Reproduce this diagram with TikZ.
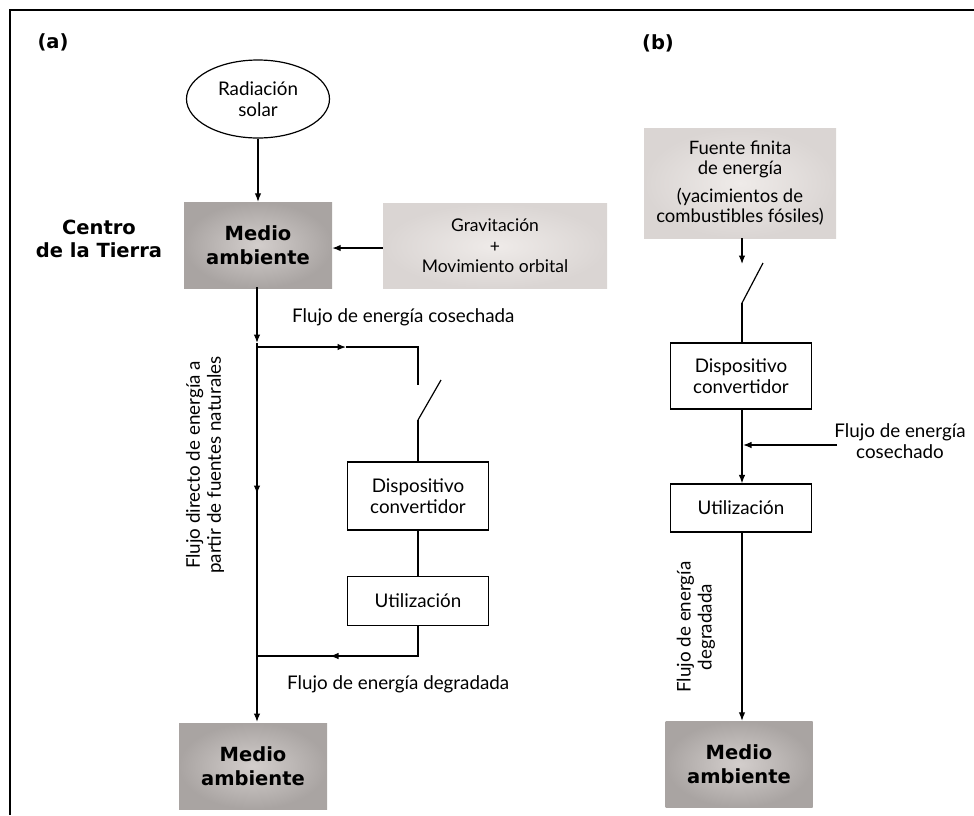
\documentclass[tikz,border=0pt]{standalone}
\usepackage{fontspec}
\setmainfont{Lato}
\newfontfamily\boldface{DejaVu Sans}
\usetikzlibrary{arrows.meta,shapes.geometric}
\definecolor{mgin}{HTML}{D3CECC}
\definecolor{mgout}{HTML}{A9A4A2}
\definecolor{lgin}{HTML}{EFEBE9}
\definecolor{lgout}{HTML}{DAD5D3}
\begin{document}
\begin{tikzpicture}[x=1pt,y=-1pt,
  txt/.style={font=\fontsize{18.8}{21}\selectfont, align=center, inner sep=0pt},
  smtxt/.style={font=\fontsize{17.5}{20.5}\selectfont, align=center, inner sep=0pt},
  bigtxt/.style={font=\boldface\bfseries\fontsize{19.5}{23.5}\selectfont, align=center, inner sep=0pt},
  plainbox/.style={draw, line width=1.2pt, txt, minimum width=141pt},
  darkbox/.style={rectangle, inner color=mgin, outer color=mgout, bigtxt, minimum width=148pt, minimum height=86pt},
  lightbox/.style={rectangle, inner color=lgin, outer color=lgout, smtxt},
  conn/.style={line width=1.2pt},
  arr/.style={conn, -{Latex[length=8.5pt,width=6.5pt]}},
]
\useasboundingbox (0,0) rectangle (974,815);
\draw[line width=2.6pt] (974,10) -- (10,10) -- (10,815);

% ---------- (a)
\node[bigtxt] (lbla) at (53,42) {(a)};
\node[draw, ellipse, line width=1.2pt, txt, minimum width=143pt, minimum height=78pt] (sol) at (258,99) {Radiación\\solar};
\node[darkbox] (medio1) at (258,245) {Medio\\ambiente};
\node[bigtxt] (centro) at (99,239) {Centro\\de la Tierra};
\node[lightbox, minimum width=224pt, minimum height=85pt] (grav) at (495,246) {Gravitación\\+\\Movimiento orbital};
\node[plainbox, minimum height=68pt] (conv1) at (418,496) {Dispositivo\\convertidor};
\node[plainbox, minimum height=49pt] (util1) at (418,601) {Utilización};
\node[darkbox] (medio2) at (253,766) {Medio\\ambiente};

\coordinate (ma) at (257,287);
\coordinate (m1) at (257,343);
\coordinate (br1) at (257,347);
\coordinate (m2) at (257,494);
\coordinate (mb) at (257,722);
\coordinate (bra) at (346,347);
\coordinate (br2) at (418,347);
\coordinate (sw1a) at (418,385);
\coordinate (sw1b) at (418,420);
\coordinate (sw1c) at (441,380);
\coordinate (dg1) at (418,656);
\coordinate (dga) at (330,656);
\coordinate (dg2) at (257,656);

\draw[arr] (sol.south) -- (medio1.north);
\draw[arr] (grav.west |- 0,248) -- (medio1.east |- 0,248);
\draw[arr] (ma) -- (m1);
\draw[conn] (m1) -- (m2);
\draw[arr] (br1) -- (m2);
\draw[arr] (m2) -- (mb);
\draw[arr] (br1) -- (bra);
\draw[conn] (bra) -- (br2) -- (sw1a);
\draw[conn] (sw1b) -- (sw1c);
\draw[conn] (sw1b) -- (conv1.north);
\draw[conn] (conv1.south) -- (util1.north);
\draw[conn] (util1.south) -- (dg1) -- (dga);
\draw[arr] (dg1) -- (dga);
\draw[conn] (dga) -- (dg2);

\node[txt, anchor=west] (lcos) at (292,317) {Flujo de energía cosechada};
\node[txt, anchor=west] (ldeg) at (287,684) {Flujo de energía degradada};
\node[txt, rotate=90] (ldir) at (205,465) {Flujo directo de energía a\\partir de fuentes naturales};

% ---------- (b)
\node[bigtxt] (lblb) at (658,43) {(b)};
\node[lightbox, minimum width=192pt, minimum height=110pt, font=\fontsize{18.5}{20}\selectfont] (fuente) at (740,183) {Fuente finita\\de energía\\[8pt](yacimientos de\\combustibles fósiles)};
\node[plainbox, minimum height=66pt] (conv2) at (741,376) {Dispositivo\\convertidor};
\node[plainbox, minimum height=48pt] (util2) at (741,508) {Utilización};
\node[darkbox, minimum width=147pt] (medio3) at (739,764) {Medio\\ambiente};

\coordinate (sw2a) at (742,264);
\coordinate (sw2b) at (742,303);
\coordinate (sw2c) at (763,263);
\coordinate (hv1) at (837,445);
\coordinate (hv2) at (743,445);

\draw[arr] (fuente.south -| sw2a) -- (sw2a);
\draw[conn] (sw2b) -- (sw2c);
\draw[conn] (sw2b) -- (conv2.north -| sw2b);
\draw[arr] (conv2.south -| sw2b) -- (util2.north -| sw2b);
\draw[arr] (hv1) -- (hv2);
\draw[arr] (util2.south -| sw2b) -- (medio3.north -| sw2b);

\node[txt] (lcos2) at (900,441) {Flujo de energía\\cosechado};
\node[txt, rotate=90] (ldeg2) at (696,627) {Flujo de energía\\degradada};
\end{tikzpicture}
\end{document}
